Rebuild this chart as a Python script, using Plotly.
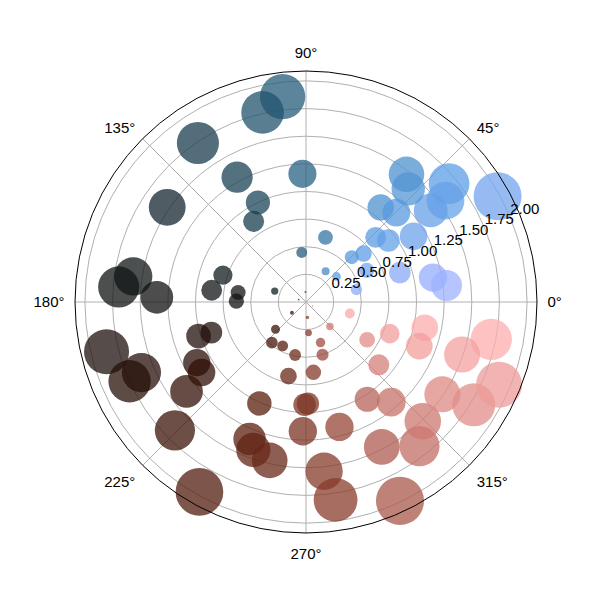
import numpy as np
import plotly.graph_objects as go

# Scatter on polar axes: radius, angle (degrees); colour follows the angle
r = [
    1.98, 1.68, 1.56, 1.40, 1.47, 1.38, 1.09, 1.15, 1.14, 0.86,
    0.93, 0.68, 0.58, 0.62, 0.33, 0.36, 0.47, 0.89, 1.17, 1.28,
    0.61,
    1.87, 1.76, 1.74, 1.52, 1.29, 1.00, 0.87, 1.16, 0.45, 0.09,
    0.07, 0.79, 0.86, 0.62, 0.63, 0.30, 1.70, 1.58, 1.35,
    1.86, 1.75, 1.62, 1.02, 0.90, 1.13, 1.14, 1.35, 1.66, 1.97,
    1.01, 1.34, 1.42, 1.47, 0.69, 0.93, 0.92, 1.17, 0.48, 0.45,
    0.37, 0.49, 0.16, 0.14, 0.28, 0.39, 0.50, 0.64, 0.31, 0.07,
    1.81, 1.54, 1.17, 1.04, 1.19, 1.48, 1.99, 1.66, 1.51, 1.49,
    1.78, 1.90, 1.71, 1.49, 1.10, 1.10, 0.41, 0.87, 0.65, 0.81,
]
theta = [
    28.9, 39.6, 36.0, 36.3, 51.8, 47.9, 51.7, 44.7, 31.4, 42.9,
    36.7, 40.1, 44.4, 27.5, 57.4, 39.9, 13.9, 17.4, 10.9, 6.7,
    73.2,
    96.5, 102.9, 124.2, 145.7, 118.9, 115.8, 123.0, 91.6, 94.9, 93.0,
    161.6, 162.1, 172.9, 172.0, 179.3, 160.7, 175.4, 171.6, 178.2,
    194.0, 204.2, 203.2, 197.6, 197.9, 209.0, 214.0, 216.8, 224.4, 240.7,
    245.3, 247.6, 250.4, 257.1, 256.7, 269.2, 271.1, 268.6, 230.0, 242.0,
    221.8, 258.4, 217.3, 275.4, 274.7, 289.7, 287.4, 276.0, 314.3, 328.0,
    278.5, 276.1, 285.0, 302.2, 310.4, 297.6, 295.3, 308.2, 314.4, 325.9,
    328.5, 336.8, 348.6, 341.4, 347.8, 338.7, 345.2, 319.2, 328.3, 339.3,
]

radial_ticks = [0.25, 0.50, 0.75, 1.00, 1.25, 1.50, 1.75, 2.00]
radial_label_angle = 22.5
angular_ticks = [0, 45, 90, 135, 180, 225, 270, 315]

# approximation of matplotlib's "berlin" colormap
BERLIN = [
    [0.0, "rgb(158,176,255)"],
    [0.1, "rgb(92,158,228)"],
    [0.2, "rgb(50,116,162)"],
    [0.3, "rgb(30,76,98)"],
    [0.4, "rgb(20,40,50)"],
    [0.5, "rgb(17,17,17)"],
    [0.6, "rgb(45,14,6)"],
    [0.7, "rgb(90,30,14)"],
    [0.8, "rgb(140,62,46)"],
    [0.9, "rgb(205,120,112)"],
    [1.0, "rgb(255,173,173)"],
]

FONT = dict(family="Liberation Sans, Arial, sans-serif", size=15, color="black")
GRID = "#b0b0b0"

fig = go.Figure()
fig.add_trace(go.Scatterpolar(
    r=r,
    theta=theta,
    mode="markers",
    marker=dict(
        size=[24.2 * v for v in r],
        color=theta,
        colorscale=BERLIN,
        opacity=0.75,
        line=dict(width=0),
    ),
    hoverinfo="r+theta",
))

# radial tick labels, matplotlib style: horizontal, up-right of each ring
fig.add_trace(go.Scatterpolar(
    r=radial_ticks,
    theta=[radial_label_angle] * len(radial_ticks),
    mode="text",
    text=[f"{v:.2f}" for v in radial_ticks],
    textposition="top right",
    textfont=FONT,
    hoverinfo="skip",
    cliponaxis=False,
))

fig.update_layout(
    width=600,
    height=600,
    margin=dict(l=67, r=71, t=63, b=75),
    paper_bgcolor="white",
    showlegend=False,
    font=FONT,
    polar=dict(
        bgcolor="white",
        radialaxis=dict(
            range=[0, 2.09],
            tickvals=radial_ticks,
            angle=radial_label_angle,
            showticklabels=False,
            showline=False,
            ticks="",
            gridcolor=GRID,
            gridwidth=1,
        ),
        angularaxis=dict(
            tickvals=angular_ticks,
            ticktext=[f"{v}°" for v in angular_ticks],
            direction="counterclockwise",
            rotation=0,
            linecolor="black",
            linewidth=1,
            gridcolor=GRID,
            gridwidth=1,
            ticks="outside",
            ticklen=7,
            tickcolor="rgba(0,0,0,0)",
            tickfont=FONT,
        ),
    ),
)

fig.write_html("out.html")
